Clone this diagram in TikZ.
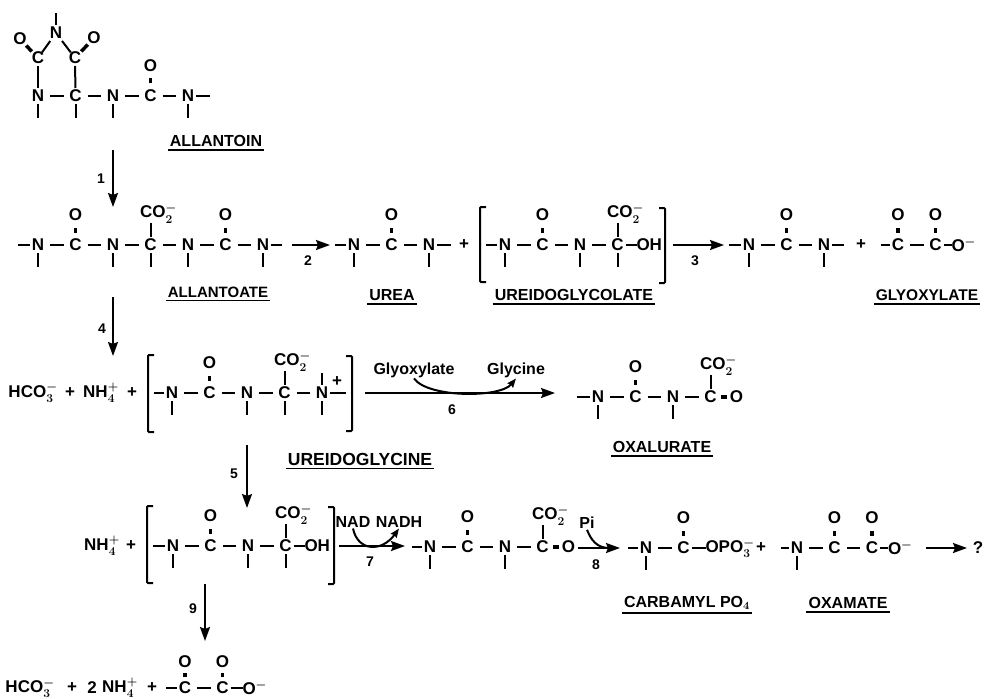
\documentclass[tikz,border=0pt]{standalone}
\usepackage{fontspec}
\setmainfont{Liberation Sans}
\usepackage{tikz}
\usetikzlibrary{arrows.meta, positioning}
\newcommand{\cotwo}{CO$_2^-$}
\begin{document}
\begin{tikzpicture}[
    x=1pt, y=-1pt,
    atom/.style={inner sep=0pt, outer sep=0pt, minimum width=24pt, minimum height=16pt, font=\fontsize{17}{17}\selectfont\bfseries\boldmath},
    cotwonode/.style={atom, xshift=8pt},
    num/.style={inner sep=0pt, font=\fontsize{14}{14}\selectfont\bfseries},
    agent/.style={inner sep=0pt, outer sep=1pt, font=\fontsize{16}{16}\selectfont\bfseries},
    namelabel/.style={inner xsep=2pt, inner ysep=3pt, font=\fontsize{16}{16}\selectfont\bfseries\boldmath},
    bond/.style={line width=2pt},
    stub/.style={bond, shorten <=-4pt},
    dbond/.style={line width=3.5pt, shorten <=4.5pt, shorten >=4.5pt},
    uline/.style={line width=1.8pt},
    bracket/.style={line width=2pt, rounded corners=1pt},
    arr/.style={-{Stealth[length=14pt, width=10pt, inset=2pt]}, line width=2pt},
    curvearr/.style={-{Stealth[length=9pt, width=7pt, inset=1pt]}, line width=2pt},
    node distance=13.5pt,
  ]
  \useasboundingbox (0,0) rectangle (984,698);
  % allantoin
  \node[atom] (atn1) at (38,96) {N};
  \node[atom, right=of atn1] (atc1) {C};
  \node[atom, right=of atc1] (atn2) {N};
  \node[atom, right=of atn2] (atc2) {C};
  \node[atom, right=of atc2] (atn3) {N};
  \node[atom, above=14pt of atc2] (ato1) {O};
  \node[atom] (atcl) at (38,58) {C};
  \node[atom] (atcr) at (75,58) {C};
  \node[atom] (atnt) at (56,33) {N};
  \node[atom] (atol) at (20,39) {O};
  \node[atom] (ator) at (94,38) {O};
  \coordinate (attop) at (56,13);
  \coordinate (atend) at (210,96);
  \draw[bond] (atn1) -- (atc1);
  \draw[bond] (atc1) -- (atn2);
  \draw[bond] (atn2) -- (atc2);
  \draw[bond] (atc2) -- (atn3);
  \draw[stub] (atn3) -- (atend);
  \draw[bond] (atn1) -- (atcl);
  \draw[bond] (atc1) -- (atcr);
  \draw[bond, shorten <=-3pt] (atcl) -- (atnt);
  \draw[bond, shorten <=-3pt] (atcr) -- (atnt);
  \draw[bond] (atnt) -- (attop);
  \draw[dbond] (atc2) -- (ato1);
  \draw[dbond, shorten <=-2pt, shorten >=-2pt] (atcl) -- (atol);
  \draw[dbond, shorten <=-2pt, shorten >=-2pt] (atcr) -- (ator);
  \foreach \a in {atn1,atc1,atn2,atn3} \draw[bond] (\a) -- ([yshift=-22pt]\a.center);
  \node[namelabel] (lallantoin) at (216,141) {ALLANTOIN};
  % step 1
  \coordinate (ar1a) at (113,150);
  \coordinate (ar1b) at (113,207);
  \draw[arr] (ar1a) -- (ar1b);
  \node[num] (lab1) at (101,179) {1};
  % allantoate
  \node[atom] (aen1) at (38,245) {N};
  \node[atom, right=of aen1] (aec1) {C};
  \node[atom, right=of aec1] (aen2) {N};
  \node[atom, right=of aen2] (aec2) {C};
  \node[atom, right=of aec2] (aen3) {N};
  \node[atom, right=of aen3] (aec3) {C};
  \node[atom, right=of aec3] (aen4) {N};
  \node[atom, above=14pt of aec1] (aeo1) {O};
  \node[cotwonode, above=14pt of aec2] (aeco) {\cotwo};
  \node[atom, above=14pt of aec3] (aeo3) {O};
  \coordinate (aebeg) at (18,245);
  \coordinate (aeend) at (282,245);
  \draw[stub] (aen1) -- (aebeg);
  \draw[bond] (aen1) -- (aec1);
  \draw[bond] (aec1) -- (aen2);
  \draw[bond] (aen2) -- (aec2);
  \draw[bond] (aec2) -- (aen3);
  \draw[bond] (aen3) -- (aec3);
  \draw[bond] (aec3) -- (aen4);
  \draw[stub] (aen4) -- (aeend);
  \draw[dbond] (aec1) -- (aeo1);
  \draw[dbond] (aec3) -- (aeo3);
  \draw[bond] (aec2) -- (aeco.south -| aec2);
  \foreach \a in {aen1,aen2,aec2,aen3,aen4} \draw[bond] (\a) -- ([yshift=-22pt]\a.center);
  \node[namelabel, font=\fontsize{15}{15}\selectfont\bfseries] (lallantoate) at (218,292) {ALLANTOATE};
  % step 2
  \coordinate (ar2a) at (292,245);
  \coordinate (ar2b) at (330,245);
  \draw[arr] (ar2a) -- (ar2b);
  \node[num] (lab2) at (308,261) {2};
  % urea
  \node[atom] (uan1) at (354,245) {N};
  \node[atom, right=of uan1] (uac1) {C};
  \node[atom, right=of uac1] (uan2) {N};
  \node[atom, above=14pt of uac1] (uao1) {O};
  \coordinate (uabeg) at (335,245);
  \coordinate (uaend) at (451,245);
  \draw[stub] (uan1) -- (uabeg);
  \draw[bond] (uan1) -- (uac1);
  \draw[bond] (uac1) -- (uan2);
  \draw[stub] (uan2) -- (uaend);
  \draw[dbond] (uac1) -- (uao1);
  \foreach \a in {uan1,uan2} \draw[bond] (\a) -- ([yshift=-22pt]\a.center);
  \node[namelabel] (lurea) at (392,295) {UREA};
  \node[atom] (plus1) at (464,245) {+};
  % ureidoglycolate
  \draw[bracket] (486,207) -- (480,207) -- (480,282) -- (486,282);
  \node[atom] (ugn1) at (505,245) {N};
  \node[atom, right=of ugn1] (ugc1) {C};
  \node[atom, right=of ugc1] (ugn2) {N};
  \node[atom, right=of ugn2] (ugc2) {C};
  \node[atom, right=7pt of ugc2] (ugoh) {OH};
  \node[atom, above=14pt of ugc1] (ugo1) {O};
  \node[cotwonode, above=14pt of ugc2] (ugco) {\cotwo};
  \coordinate (ugbeg) at (486,245);
  \draw[stub] (ugn1) -- (ugbeg);
  \draw[bond] (ugn1) -- (ugc1);
  \draw[bond] (ugc1) -- (ugn2);
  \draw[bond] (ugn2) -- (ugc2);
  \draw[stub] (ugc2) -- (ugoh);
  \draw[dbond] (ugc1) -- (ugo1);
  \draw[bond] (ugc2) -- (ugco.south -| ugc2);
  \foreach \a in {ugn1,ugn2,ugc2} \draw[bond] (\a) -- ([yshift=-22pt]\a.center);
  \draw[bracket] (659,208) -- (665,208) -- (665,283) -- (659,283);
  \node[namelabel] (lureidoglycolate) at (574,295) {UREIDOGLYCOLATE};
  % step 3
  \coordinate (ar3a) at (673,245);
  \coordinate (ar3b) at (724,245);
  \draw[arr] (ar3a) -- (ar3b);
  \node[num] (lab3) at (695,261) {3};
  % urea and glyoxylate
  \node[atom] (ubn1) at (749,245) {N};
  \node[atom, right=of ubn1] (ubc1) {C};
  \node[atom, right=of ubc1] (ubn2) {N};
  \node[atom, above=14pt of ubc1] (ubo1) {O};
  \coordinate (ubbeg) at (729,245);
  \coordinate (ubend) at (844,245);
  \draw[stub] (ubn1) -- (ubbeg);
  \draw[bond] (ubn1) -- (ubc1);
  \draw[bond] (ubc1) -- (ubn2);
  \draw[stub] (ubn2) -- (ubend);
  \draw[dbond] (ubc1) -- (ubo1);
  \foreach \a in {ubn1,ubn2} \draw[bond] (\a) -- ([yshift=-22pt]\a.center);
  \node[atom] (plus2) at (861,245) {+};
  \node[atom] (glc1) at (898,245) {C};
  \node[atom, right=of glc1] (glc2) {C};
  \node[atom, right=4pt of glc2] (glom) {O$^-$};
  \node[atom, above=14pt of glc1] (glo1) {O};
  \node[atom, above=14pt of glc2] (glo2) {O};
  \coordinate (glbeg) at (881,245);
  \draw[stub] (glc1) -- (glbeg);
  \draw[bond] (glc1) -- (glc2);
  \draw[stub] (glc2) -- (glom);
  \draw[dbond] (glc1) -- (glo1);
  \draw[dbond] (glc2) -- (glo2);
  \node[namelabel, font=\fontsize{15.5}{15.5}\selectfont\bfseries] (lglyoxylate) at (927,295) {GLYOXYLATE};
  % step 4
  \coordinate (ar4a) at (113,297);
  \coordinate (ar4b) at (113,356);
  \draw[arr] (ar4a) -- (ar4b);
  \node[num] (lab4) at (102,329) {4};
  % ureidoglycine
  \node[atom] (hco1) at (33,393) {HCO$_3^-$};
  \node[atom] (plus3) at (70,393) {+};
  \node[atom] (nh1) at (101,393) {NH$_4^+$};
  \node[atom] (plus4) at (132,393) {+};
  \draw[bracket] (154,355) -- (148,355) -- (148,432) -- (154,432);
  \node[atom] (ygn1) at (172,393) {N};
  \node[atom, right=of ygn1] (ygc1) {C};
  \node[atom, right=of ygc1] (ygn2) {N};
  \node[atom, right=of ygn2] (ygc2) {C};
  \node[atom, right=of ygc2] (ygn3) {N};
  \node[atom, above=14pt of ygc1] (ygo1) {O};
  \node[cotwonode, above=14pt of ygc2] (ygco) {\cotwo};
  \node[atom] (ygplus) at (337,382) {+};
  \coordinate (ygbeg) at (154,393);
  \coordinate (ygend) at (346,393);
  \draw[stub] (ygn1) -- (ygbeg);
  \draw[bond] (ygn1) -- (ygc1);
  \draw[bond] (ygc1) -- (ygn2);
  \draw[bond] (ygn2) -- (ygc2);
  \draw[bond] (ygc2) -- (ygn3);
  \draw[stub] (ygn3) -- (ygend);
  \draw[dbond] (ygc1) -- (ygo1);
  \draw[bond] (ygc2) -- (ygco.south -| ygc2);
  \draw[bond] (ygn3) -- ([yshift=20pt]ygn3.center);
  \foreach \a in {ygn1,ygn2,ygc2,ygn3} \draw[bond] (\a) -- ([yshift=-22pt]\a.center);
  \draw[bracket] (346,356) -- (352,356) -- (352,431) -- (346,431);
  \node[namelabel, font=\fontsize{17.5}{17.5}\selectfont\bfseries] (lureidoglycine) at (360,459) {UREIDOGLYCINE};
  % step 6
  \coordinate (ar6a) at (365,393);
  \coordinate (ar6b) at (555,393);
  \draw[arr] (ar6a) -- (ar6b);
  \node[num] (lab6) at (452,410) {6};
  \node[agent] (glyoxylate) at (414,370) {Glyoxylate};
  \node[agent] (glycine) at (516,370) {Glycine};
  \draw[curvearr] (glyoxylate.south) .. controls (428,398) and (500,398) .. (glycine.south);
  % oxalurate
  \node[atom] (oxn1) at (598,397) {N};
  \node[atom, right=of oxn1] (oxc1) {C};
  \node[atom, right=of oxc1] (oxn2) {N};
  \node[atom, right=of oxn2] (oxc2) {C};
  \node[atom, right=2pt of oxc2] (oxo2) {O};
  \node[atom, above=14pt of oxc1] (oxo1) {O};
  \node[cotwonode, above=14pt of oxc2] (oxco) {\cotwo};
  \coordinate (oxbeg) at (577,397);
  \draw[stub] (oxn1) -- (oxbeg);
  \draw[bond] (oxn1) -- (oxc1);
  \draw[bond] (oxc1) -- (oxn2);
  \draw[bond] (oxn2) -- (oxc2);
  \draw[dbond] (oxc1) -- (oxo1);
  \draw[dbond, shorten <=-2pt, shorten >=-2pt] (oxc2) -- (oxo2);
  \draw[bond] (oxc2) -- (oxco.south -| oxc2);
  \foreach \a in {oxn1,oxn2} \draw[bond] (\a) -- ([yshift=-22pt]\a.center);
  \node[namelabel] (loxalurate) at (662,447) {OXALURATE};
  % step 5
  \coordinate (ar5a) at (247,445);
  \coordinate (ar5b) at (247,508);
  \draw[arr] (ar5a) -- (ar5b);
  \node[num] (lab5) at (234,474) {5};
  % ureidoglycolate again
  \node[atom] (nh2) at (102,546) {NH$_4^+$};
  \node[atom] (plus5) at (131,546) {+};
  \draw[bracket] (153,506) -- (147,506) -- (147,583) -- (153,583);
  \node[atom] (ucn1) at (173,546) {N};
  \node[atom, right=of ucn1] (ucc1) {C};
  \node[atom, right=of ucc1] (ucn2) {N};
  \node[atom, right=of ucn2] (ucc2) {C};
  \node[atom, right=7pt of ucc2] (ucoh) {OH};
  \node[atom, above=14pt of ucc1] (uco1) {O};
  \node[cotwonode, above=14pt of ucc2] (ucco) {\cotwo};
  \coordinate (ucbeg) at (153,546);
  \draw[stub] (ucn1) -- (ucbeg);
  \draw[bond] (ucn1) -- (ucc1);
  \draw[bond] (ucc1) -- (ucn2);
  \draw[bond] (ucn2) -- (ucc2);
  \draw[stub] (ucc2) -- (ucoh);
  \draw[dbond] (ucc1) -- (uco1);
  \draw[bond] (ucc2) -- (ucco.south -| ucc2);
  \foreach \a in {ucn1,ucn2,ucc2} \draw[bond] (\a) -- ([yshift=-22pt]\a.center);
  \draw[bracket] (328,507) -- (334,507) -- (334,584) -- (328,584);
  % step 7
  \coordinate (ar7a) at (339,546);
  \coordinate (ar7b) at (405,546);
  \draw[arr] (ar7a) -- (ar7b);
  \node[num] (lab7) at (370,562) {7};
  \node[agent] (nad) at (353,522) {NAD};
  \node[agent] (nadh) at (399,522) {NADH};
  \draw[curvearr] (nad.south) .. controls (358,552) and (382,552) .. (nadh.south);
  % oxalurate again
  \node[atom] (otn1) at (430,547) {N};
  \node[atom, right=of otn1] (otc1) {C};
  \node[atom, right=of otc1] (otn2) {N};
  \node[atom, right=of otn2] (otc2) {C};
  \node[atom, right=2pt of otc2] (oto2) {O};
  \node[atom, above=14pt of otc1] (oto1) {O};
  \node[cotwonode, above=14pt of otc2] (otco) {\cotwo};
  \coordinate (otbeg) at (412,547);
  \draw[stub] (otn1) -- (otbeg);
  \draw[bond] (otn1) -- (otc1);
  \draw[bond] (otc1) -- (otn2);
  \draw[bond] (otn2) -- (otc2);
  \draw[dbond] (otc1) -- (oto1);
  \draw[dbond, shorten <=-2pt, shorten >=-2pt] (otc2) -- (oto2);
  \draw[bond] (otc2) -- (otco.south -| otc2);
  \foreach \a in {otn1,otn2} \draw[bond] (\a) -- ([yshift=-22pt]\a.center);
  % step 8
  \coordinate (ar8a) at (578,548);
  \coordinate (ar8b) at (620,548);
  \coordinate (ar8m) at (609,548);
  \draw[arr] (ar8a) -- (ar8b);
  \node[num] (lab8) at (596,565) {8};
  \node[agent] (pi) at (587,523) {Pi};
  \draw[bond] (pi.south) .. controls (591,540) and (597,548) .. (ar8m);
  % carbamyl phosphate
  \node[atom] (cpn1) at (646,548) {N};
  \node[atom, right=of cpn1] (cpc1) {C};
  \node[atom, above=14pt of cpc1] (cpo1) {O};
  \node[atom, right=10pt of cpc1] (cpopo) {OPO$_3^-$};
  \coordinate (cpbeg) at (628,548);
  \draw[stub] (cpn1) -- (cpbeg);
  \draw[bond] (cpn1) -- (cpc1);
  \draw[stub] (cpc1) -- (cpopo);
  \draw[dbond] (cpc1) -- (cpo1);
  \draw[bond] (cpn1) -- ([yshift=-22pt]cpn1.center);
  \node[atom] (plus6) at (761,548) {+};
  \node[namelabel] (lcarbamyl) at (687,603) {CARBAMYL PO$_4$};
  % oxamate
  \node[atom] (omn1) at (797,548) {N};
  \node[atom, right=of omn1] (omc1) {C};
  \node[atom, right=of omc1] (omc2) {C};
  \node[atom, right=4pt of omc2] (omom) {O$^-$};
  \node[atom, above=14pt of omc1] (omo1) {O};
  \node[atom, above=14pt of omc2] (omo2) {O};
  \coordinate (ombeg) at (781,548);
  \draw[stub] (omn1) -- (ombeg);
  \draw[bond] (omn1) -- (omc1);
  \draw[bond] (omc1) -- (omc2);
  \draw[stub] (omc2) -- (omom);
  \draw[dbond] (omc1) -- (omo1);
  \draw[dbond] (omc2) -- (omo2);
  \draw[bond] (omn1) -- ([yshift=-22pt]omn1.center);
  \node[namelabel] (loxamate) at (848,603) {OXAMATE};
  % last arrow
  \coordinate (arqa) at (926,548);
  \coordinate (arqb) at (967,548);
  \draw[arr] (arqa) -- (arqb);
  \node[atom, minimum width=8pt] (query) at (978,548) {?};
  % step 9
  \coordinate (ar9a) at (205,584);
  \coordinate (ar9b) at (205,641);
  \draw[arr] (ar9a) -- (ar9b);
  \node[num] (lab9) at (193,609) {9};
  % oxalate
  \node[atom] (hco2) at (30,688) {HCO$_3^-$};
  \node[atom] (plus7) at (72,688) {+};
  \node[atom, minimum width=8pt] (two) at (92,688) {2};
  \node[atom] (nh3) at (120,688) {NH$_4^+$};
  \node[atom] (plus8) at (152,688) {+};
  \node[atom] (ofc1) at (185,688) {C};
  \node[atom, right=of ofc1] (ofc2) {C};
  \node[atom, right=8pt of ofc2] (ofom) {O$^-$};
  \node[atom, above=10pt of ofc1] (ofo1) {O};
  \node[atom, above=10pt of ofc2] (ofo2) {O};
  \coordinate (ofbeg) at (166,688);
  \draw[stub] (ofc1) -- (ofbeg);
  \draw[bond] (ofc1) -- (ofc2);
  \draw[stub] (ofc2) -- (ofom);
  \draw[dbond, shorten <=3pt, shorten >=3pt] (ofc1) -- (ofo1);
  \draw[dbond, shorten <=3pt, shorten >=3pt] (ofc2) -- (ofo2);
  % name underlines
  \foreach \n in {lallantoin,lallantoate,lurea,lureidoglycolate,lglyoxylate,lureidoglycine,loxalurate,lcarbamyl,loxamate} \draw[uline] (\n.south west) -- (\n.south east);
\end{tikzpicture}
\end{document}
